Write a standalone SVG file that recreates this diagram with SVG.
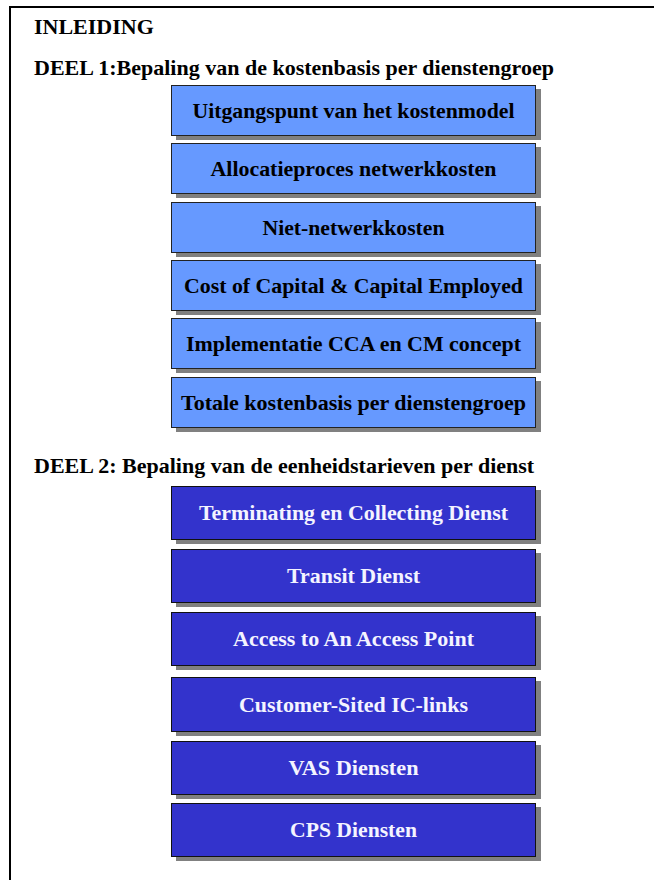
<svg xmlns="http://www.w3.org/2000/svg" width="654" height="880" viewBox="0 0 654 880">
  <style>
    .frame { stroke: #000; stroke-width: 2; fill: none; }
    .hdr { font-family: "Liberation Serif", "Times New Roman", serif; font-weight: bold; font-size: 22px; fill: #000; }
    .shadow { fill: #808080; }
    .b1 { fill: #6699FF; stroke: #222; stroke-width: 1; }
    .b2 { fill: #3333CC; stroke: #111; stroke-width: 1; }
    .t1 { font-family: "Liberation Serif", "Times New Roman", serif; font-weight: bold; font-size: 21.5px; fill: #000; text-anchor: middle; }
    .t2 { font-family: "Liberation Serif", "Times New Roman", serif; font-weight: bold; font-size: 21.5px; fill: #F4F4FF; text-anchor: middle; }
  </style>
  <rect width="654" height="880" fill="#fff"/>
  <path class="frame" d="M10 880 V7 H654"/>

  <g id="headers">
    <text class="hdr" x="34" y="34">INLEIDING</text>
    <text class="hdr" x="34" y="75">DEEL 1:Bepaling van de kostenbasis per dienstengroep</text>
    <text class="hdr" x="34" y="473">DEEL 2: Bepaling van de eenheidstarieven per dienst</text>
  </g>

  <g id="n1">
    <rect class="shadow" x="176" y="89" width="365" height="51"/>
    <rect class="b1" x="171.5" y="85.5" width="364" height="50"/>
    <text class="t1" x="353.5" y="118" textLength="322" lengthAdjust="spacingAndGlyphs">Uitgangspunt van het kostenmodel</text>
  </g>
  <g id="n2">
    <rect class="shadow" x="176" y="147" width="365" height="51"/>
    <rect class="b1" x="171.5" y="143.5" width="364" height="50"/>
    <text class="t1" x="353.5" y="176" textLength="286" lengthAdjust="spacingAndGlyphs">Allocatieproces netwerkkosten</text>
  </g>
  <g id="n3">
    <rect class="shadow" x="176" y="206" width="365" height="51"/>
    <rect class="b1" x="171.5" y="202.5" width="364" height="50"/>
    <text class="t1" x="353.5" y="235" textLength="182" lengthAdjust="spacingAndGlyphs">Niet-netwerkkosten</text>
  </g>
  <g id="n4">
    <rect class="shadow" x="176" y="264" width="365" height="51"/>
    <rect class="b1" x="171.5" y="260.5" width="364" height="50"/>
    <text class="t1" x="353.5" y="293" textLength="339" lengthAdjust="spacingAndGlyphs">Cost of Capital &amp; Capital Employed</text>
  </g>
  <g id="n5">
    <rect class="shadow" x="176" y="322" width="365" height="51"/>
    <rect class="b1" x="171.5" y="318.5" width="364" height="50"/>
    <text class="t1" x="353.5" y="351" textLength="335" lengthAdjust="spacingAndGlyphs">Implementatie CCA en CM concept</text>
  </g>
  <g id="n6">
    <rect class="shadow" x="176" y="381" width="365" height="51"/>
    <rect class="b1" x="171.5" y="377.5" width="364" height="50"/>
    <text class="t1" x="353.5" y="410" textLength="345" lengthAdjust="spacingAndGlyphs">Totale kostenbasis per dienstengroep</text>
  </g>

  <g id="m1">
    <rect class="shadow" x="176" y="490" width="365" height="54"/>
    <rect class="b2" x="171.5" y="486.5" width="364" height="53"/>
    <text class="t2" x="353.5" y="520" textLength="309" lengthAdjust="spacingAndGlyphs">Terminating en Collecting Dienst</text>
  </g>
  <g id="m2">
    <rect class="shadow" x="176" y="553" width="365" height="54"/>
    <rect class="b2" x="171.5" y="549.5" width="364" height="53"/>
    <text class="t2" x="353.5" y="583" textLength="133" lengthAdjust="spacingAndGlyphs">Transit Dienst</text>
  </g>
  <g id="m3">
    <rect class="shadow" x="176" y="616" width="365" height="54"/>
    <rect class="b2" x="171.5" y="612.5" width="364" height="53"/>
    <text class="t2" x="353.5" y="646" textLength="241" lengthAdjust="spacingAndGlyphs">Access to An Access Point</text>
  </g>
  <g id="m4">
    <rect class="shadow" x="176" y="681" width="365" height="55"/>
    <rect class="b2" x="171.5" y="677.5" width="364" height="54"/>
    <text class="t2" x="353.5" y="711.5" textLength="229" lengthAdjust="spacingAndGlyphs">Customer-Sited IC-links</text>
  </g>
  <g id="m5">
    <rect class="shadow" x="176" y="745" width="365" height="54"/>
    <rect class="b2" x="171.5" y="741.5" width="364" height="53"/>
    <text class="t2" x="353.5" y="775" textLength="130" lengthAdjust="spacingAndGlyphs">VAS Diensten</text>
  </g>
  <g id="m6">
    <rect class="shadow" x="176" y="807" width="365" height="54"/>
    <rect class="b2" x="171.5" y="803.5" width="364" height="53"/>
    <text class="t2" x="353.5" y="837" textLength="127" lengthAdjust="spacingAndGlyphs">CPS Diensten</text>
  </g>
</svg>
